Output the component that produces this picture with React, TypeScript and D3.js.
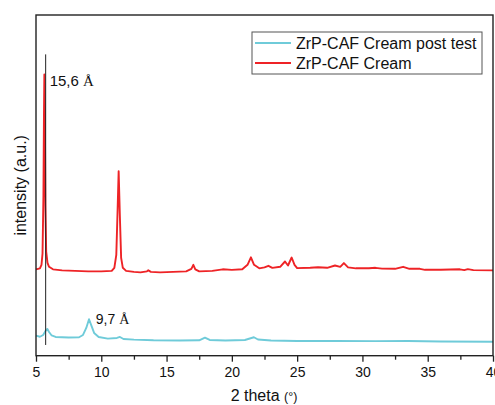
import React, { useEffect, useRef } from 'react';
import * as d3 from 'd3';

// XRD patterns (2 theta in degrees, intensity in a.u., stacked)
const creamTheta = [5.0, 5.3, 5.42, 5.5, 5.57, 5.61, 5.64, 5.68, 5.72, 5.78, 5.88, 6.0, 6.3, 7.0, 8.0, 9.0, 10.0, 10.8, 11.0, 11.15, 11.25, 11.33, 11.42, 11.52, 11.65, 11.9, 12.5, 13.0, 13.5, 13.6, 13.8, 14.5, 15.5, 16.5, 16.9, 17.05, 17.2, 17.5, 18.5, 19.3, 20.0, 20.8, 21.2, 21.46, 21.7, 22.1, 22.5, 22.8, 23.1, 23.7, 24.07, 24.3, 24.58, 24.8, 25.0, 26.0, 26.6, 27.3, 27.9, 28.3, 28.58, 28.9, 29.5, 30.5, 31.0, 31.5, 32.5, 33.12, 33.6, 34.4, 34.8, 36.0, 37.46, 37.8, 38.07, 38.5, 40.0];
const creamValues = [86.2, 87.2, 90.7, 102, 160, 240, 280.7, 240, 150, 104, 92.7, 88.7, 86.2, 85.2, 84.7, 84.2, 84.2, 84.7, 87.7, 100.7, 145.7, 184, 140.7, 97.7, 87.7, 84.7, 83.7, 83.2, 84.2, 85.2, 83.7, 83.2, 83.7, 84.2, 86.7, 90.7, 86.2, 84.2, 84.7, 86.2, 85.7, 86.2, 90.7, 98.2, 90.7, 87.2, 88.2, 89.7, 87.7, 88.7, 94, 90, 98, 90.7, 87.4, 87.7, 88.2, 87.7, 90, 88.7, 92.4, 88.2, 87.2, 87.2, 87.7, 86.9, 86.7, 88.7, 86.7, 86.7, 85.7, 85.7, 86.2, 85.4, 86.4, 85.4, 85.2];

const postTheta = [5.0, 5.3, 5.55, 5.75, 5.87, 6.0, 6.2, 6.5, 7.5, 8.3, 8.6, 8.85, 9.06, 9.25, 9.45, 9.8, 10.5, 11.2, 11.43, 11.7, 12.5, 14.0, 16.0, 17.5, 17.94, 18.3, 19.5, 21.0, 21.69, 22.0, 23.0, 25.0, 28.0, 31.0, 33.5, 36.0, 40.0];
const postValues = [20, 18.9, 20.7, 25.2, 26.7, 23.7, 20.2, 18.7, 18.2, 18.4, 20.7, 27.7, 36.4, 29.7, 22.7, 18.7, 17, 17.7, 18.7, 16.7, 16, 15.4, 15.2, 15.4, 18, 15.7, 15.2, 15.7, 18.4, 16.2, 15.2, 14.7, 14.7, 14.5, 14.7, 14.2, 13.9];

const seriesNames = ['ZrP-CAF Cream post test', 'ZrP-CAF Cream'];
const seriesColors = ['#6fcbd9', '#ee2326'];

const xTicks = [5, 10, 15, 20, 25, 30, 35, 40];
const xMinorTicks = [7.5, 12.5, 17.5, 22.5, 27.5, 32.5, 37.5];

// reference line at the first basal reflection
const markerTheta = 5.74;
const markerRange = [10.7, 300.7];

const App = () => {
  const axisRef = useRef(null);

  const width = 495;
  const height = 405;
  const margin = { top: 15, right: 2, bottom: 49.3, left: 36 };

  const xScale = d3.scaleLinear()
    .domain([5, 40])
    .range([margin.left, width - margin.right]);

  const yScale = d3.scaleLinear()
    .domain([0, 340])
    .range([height - margin.bottom, margin.top]);

  const line = d3.line<[number, number]>()
    .x(d => xScale(d[0]))
    .y(d => yScale(d[1]));

  const cream = creamTheta.map((t, i) => [t, creamValues[i]] as [number, number]);
  const post = postTheta.map((t, i) => [t, postValues[i]] as [number, number]);

  useEffect(() => {
    const g = d3.select(axisRef.current);
    g.selectAll('*').remove();

    g.append('g')
      .attr('transform', `translate(0, ${height - margin.bottom})`)
      .call(d3.axisBottom(xScale).tickValues(xMinorTicks).tickSize(4).tickFormat(() => ''))
      .call(a => a.select('.domain').remove())
      .call(a => a.selectAll('line').attr('stroke', '#222').attr('stroke-width', 1.3));

    g.append('g')
      .attr('transform', `translate(0, ${height - margin.bottom})`)
      .call(d3.axisBottom(xScale).tickValues(xTicks).tickSize(6).tickSizeOuter(0).tickPadding(5).tickFormat(d3.format('d')))
      .call(a => a.select('.domain').remove())
      .call(a => a.selectAll('line').attr('stroke', '#222').attr('stroke-width', 1.3))
      .call(a => a.selectAll('text')
        .attr('font-family', 'Liberation Sans, Arial, sans-serif')
        .attr('font-size', 14)
        .attr('fill', '#111'));
  });

  const x0 = margin.left;
  const x1 = width - margin.right;
  const y0 = margin.top;
  const y1 = height - margin.bottom;

  return (
    <svg width={width} height={height} style={{ position: 'absolute', left: 0, top: 0 }}
      fontFamily="Liberation Sans, Arial, sans-serif">
      <rect x={0} y={0} width={width} height={height} fill="white" />

      <path d={line(post) ?? ''} fill="none" stroke={seriesColors[0]} strokeWidth={1.9} strokeLinejoin="round" />
      <path d={line(cream) ?? ''} fill="none" stroke={seriesColors[1]} strokeWidth={1.9} strokeLinejoin="round" />

      <line x1={xScale(markerTheta)} x2={xScale(markerTheta)} y1={yScale(markerRange[0])} y2={yScale(markerRange[1])}
        stroke="#222" strokeWidth={1} />

      <text x={xScale(markerTheta) + 4} y={85.5} fontSize={15} fill="#111">
        15,6 <tspan fontFamily="Liberation Serif, serif">Å</tspan>
      </text>
      <text x={xScale(9.58)} y={324} fontSize={14} fill="#111">
        9,7 <tspan fontFamily="Liberation Serif, serif">Å</tspan>
      </text>

      <g ref={axisRef} />

      <rect x={x0} y={y0} width={x1 - x0} height={y1 - y0} fill="none" stroke="#222" strokeWidth={1.4} />

      {/* legend */}
      <g>
        <rect x={252} y={32} width={230} height={42} fill="white" stroke="#555" strokeWidth={1} />
        {seriesNames.map((name, i) => (
          <g key={name}>
            <line x1={255} x2={291} y1={43 + i * 20} y2={43 + i * 20} stroke={seriesColors[i]} strokeWidth={2} />
            <text x={296} y={48.5 + i * 20} fontSize={16} fill="#111">{name}</text>
          </g>
        ))}
      </g>

      <text x={264} y={401} textAnchor="middle" fontSize={16} fill="#111">
        2 theta <tspan fontSize={12.5}>(°)</tspan>
      </text>
      <text transform={`translate(26, ${(y0 + y1) / 2}) rotate(-90)`} textAnchor="middle" fontSize={16} fill="#111">
        intensity (a.u.)
      </text>
    </svg>
  );
};

export default App;
